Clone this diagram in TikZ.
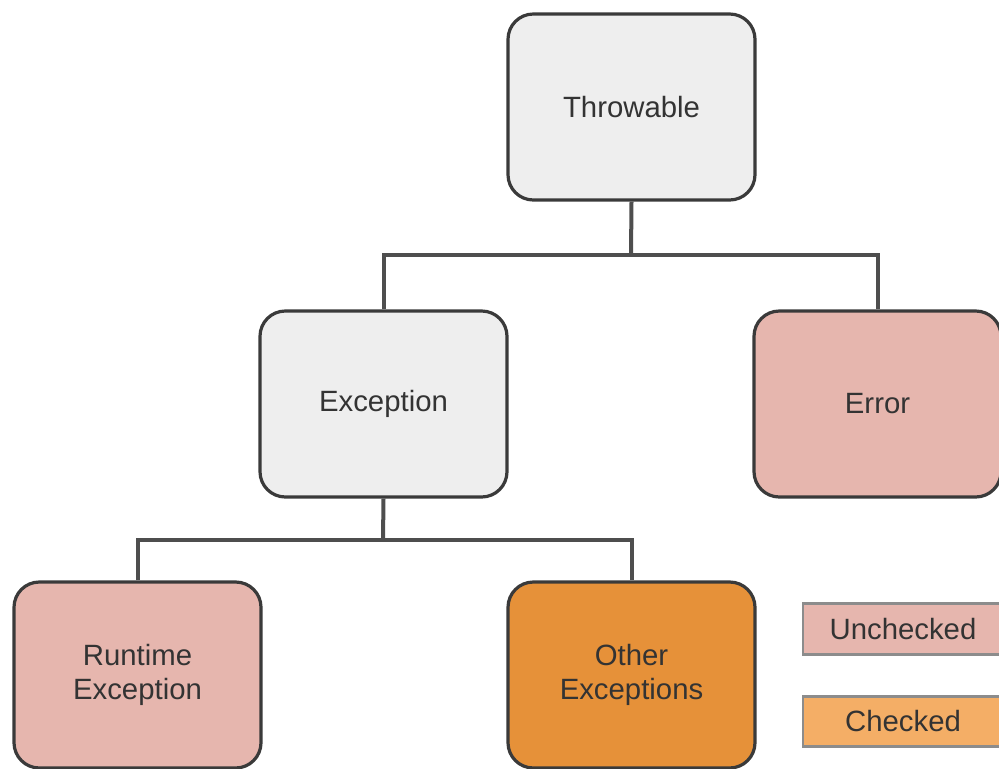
\documentclass[tikz,border=0pt]{standalone}
\usepackage{fontspec}
\setmainfont{Liberation Sans}
\definecolor{boxgrey}{HTML}{EEEEEE}
\definecolor{edge}{HTML}{3A3A3A}
\definecolor{unchk}{HTML}{E6B6AE}
\definecolor{chkdark}{HTML}{E69139}
\definecolor{chklight}{HTML}{F4AE66}
\definecolor{legedge}{HTML}{8C8C8C}
\definecolor{txt}{HTML}{333333}
\tikzset{
  cls/.style={draw=edge, line width=2.4pt, rounded corners=19pt,
    minimum width=185.25pt, minimum height=139.5pt, inner sep=0pt,
    align=center, text=txt, font=\fontsize{22}{25}\selectfont},
  leg/.style={draw=legedge, line width=2.2pt,
    minimum width=150pt, minimum height=38pt, inner sep=0pt,
    text=txt, font=\fontsize{22}{25}\selectfont},
  conn/.style={draw=edge!90, line width=3pt}
}
\begin{document}
\begin{tikzpicture}[x=0.75pt, y=-0.75pt]
\useasboundingbox (0,0) rectangle (999,768);
\clip (0,0) rectangle (999,768);
\node[cls, fill=boxgrey] (thr) at (631.5,107) {Throwable};
\node[cls, fill=boxgrey] (exc) at (383.5,404) {Exception};
\node[cls, fill=unchk] (err) at (877.5,404) {Error};
\node[cls, fill=unchk] (rte) at (137.5,675) {Runtime\\Exception};
\node[cls, fill=chkdark] (oth) at (631.5,675) {Other\\Exceptions};
\node[leg, fill=unchk] (lu) at (903,629) {Unchecked};
\node[leg, fill=chklight] (lc) at (903,721.5) {Checked};
\coordinate (j1) at (631,255);
\coordinate (j2) at (383,540);
\draw[conn] (thr.south) -- (j1);
\draw[conn] (exc.north) |- (j1) -| (err.north);
\draw[conn] (exc.south) -- (j2);
\draw[conn] (rte.north) |- (j2) -| (oth.north);
\end{tikzpicture}
\end{document}
